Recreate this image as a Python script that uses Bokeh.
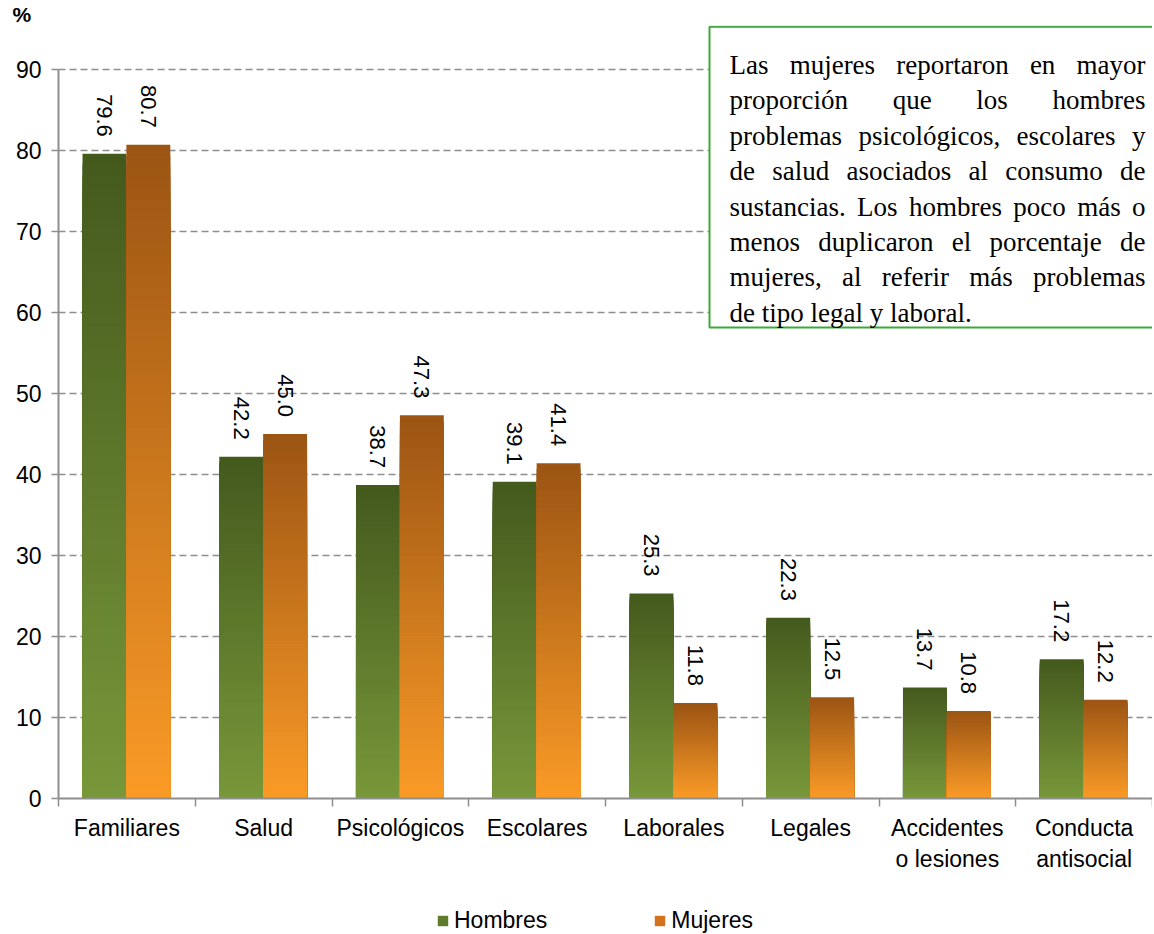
import math
from bokeh.plotting import figure
from bokeh.layouts import column
from bokeh.models import (Range1d, FixedTicker, Legend, LegendItem,
                          ColumnDataSource)
from bokeh.embed import file_html
from bokeh.resources import INLINE
from bokeh.core.properties import value

# ---------------- data ----------------
categories = ["Familiares", "Salud", "Psicológicos", "Escolares", "Laborales",
              "Legales", "Accidentes\no lesiones", "Conducta\nantisocial"]
hombres = [79.6, 42.2, 38.7, 39.1, 25.3, 22.3, 13.7, 17.2]
mujeres = [80.7, 45.0, 47.3, 41.4, 11.8, 12.5, 10.8, 12.2]
series_names = ["Hombres", "Mujeres"]
y_ticks = [0, 10, 20, 30, 40, 50, 60, 70, 80, 90]
note_lines = [
    "Las mujeres reportaron en mayor",
    "proporción que los hombres",
    "problemas psicológicos, escolares y",
    "de salud asociados al consumo de",
    "sustancias. Los hombres poco más o",
    "menos duplicaron el porcentaje de",
    "mujeres, al referir más problemas",
    "de tipo legal y laboral.",
]

# ---------------- style ----------------
GREEN_TOP, GREEN_BOT = "#44591d", "#78983a"
ORANGE_TOP, ORANGE_BOT = "#9b5413", "#fa9b27"
GREY = "#8e8e8e"
SANS = "Liberation Sans"
SERIF = "Liberation Serif"

LEFT, TOP = 58, 24
ZERO_Y = 797                        # page y of value 0
FRAME_W, FRAME_H = 1094, ZERO_Y - TOP
PX_X = FRAME_W / len(categories)    # px per category
PX_Y = 8.1                          # px per unit
Y_END = FRAME_H / PX_Y


def h2r(h):
    h = h.lstrip("#")
    return [int(h[i:i + 2], 16) for i in (0, 2, 4)]


def mix(c_bot, c_top, f):
    a, b = h2r(c_bot), h2r(c_top)
    return "#%02x%02x%02x" % tuple(int(round(a[i] + (b[i] - a[i]) * f)) for i in range(3))


def gradient_source(vals, offset, c_top, c_bot, n=60):
    # overlapping stacks drawn tallest first: no seams between bands
    xs, ts, cs = [], [], []
    for i, v in enumerate(vals):
        for k in range(n - 1, -1, -1):
            xs.append(i + offset)
            ts.append(v * (k + 1) / n)
            cs.append(mix(c_bot, c_top, (k + 0.5) / n))
    return ColumnDataSource(dict(x=xs, t=ts, c=cs))


p = figure(frame_width=FRAME_W, frame_height=FRAME_H,
           x_range=Range1d(0, len(categories)), y_range=Range1d(0, Y_END),
           output_backend="svg", toolbar_location=None, title="%",
           min_border_left=LEFT, min_border_top=TOP, min_border_right=0,
           min_border_bottom=0)
p.outline_line_color = None
p.background_fill_color = "white"
p.title.text_font = SANS
p.title.text_font_size = "21px"
p.title.text_font_style = "bold"
p.title.text_color = "black"
p.title.align = "left"
p.title.vertical_align = "bottom"
p.title.offset = -46
p.title.standoff = 0

# grid
p.xgrid.visible = False
p.ygrid.ticker = FixedTicker(ticks=y_ticks[1:])
p.ygrid.grid_line_color = GREY
p.ygrid.grid_line_width = 1.5
p.ygrid.grid_line_dash = "7 4"

# y axis
p.yaxis.ticker = FixedTicker(ticks=y_ticks, minor_ticks=[])
p.yaxis.bounds = (0, 90)
p.yaxis.axis_line_color = GREY
p.yaxis.axis_line_width = 2
p.yaxis.major_tick_line_color = GREY
p.yaxis.major_tick_line_width = 1.5
p.yaxis.major_tick_out = 7
p.yaxis.major_tick_in = 0
p.yaxis.major_label_standoff = 10
p.yaxis.major_label_text_font = SANS
p.yaxis.major_label_text_font_size = "23px"
p.yaxis.major_label_text_color = "black"

# x axis
centers = [i + 0.5 for i in range(len(categories))]
p.xaxis.ticker = FixedTicker(ticks=centers, minor_ticks=list(range(len(categories) + 1)))
p.xaxis.major_label_overrides = {c: lab for c, lab in zip(centers, categories)}
p.xaxis.axis_line_color = GREY
p.xaxis.axis_line_width = 2
p.xaxis.major_tick_line_color = None
p.xaxis.major_tick_out = 0
p.xaxis.major_tick_in = 0
p.xaxis.minor_tick_line_color = GREY
p.xaxis.minor_tick_line_width = 1.5
p.xaxis.minor_tick_out = 8
p.xaxis.minor_tick_in = 0
p.xaxis.major_label_standoff = 8
p.xaxis.major_label_text_font = SANS
p.xaxis.major_label_text_font_size = "23px"
p.xaxis.major_label_text_color = "black"

# bars with gradient
BW = 0.321
OFF_H, OFF_M = 0.336, 0.657
src_h = gradient_source(hombres, OFF_H, GREEN_TOP, GREEN_BOT)
src_m = gradient_source(mujeres, OFF_M, ORANGE_TOP, ORANGE_BOT)
for src in (src_h, src_m):
    p.vbar(x="x", width=BW, bottom=0, top="t", fill_color="c",
           line_color=None, source=src)

# value labels
for vals, off in ((hombres, OFF_H), (mujeres, OFF_M)):
    lsrc = ColumnDataSource(dict(x=[i + off for i in range(len(vals))], y=vals,
                                 t=["%.1f" % v for v in vals]))
    p.text(x="x", y="y", text="t", source=lsrc, angle=-math.pi / 2,
           text_align="right", text_baseline="middle", y_offset=-17,
           text_font=value(SANS), text_font_size="22px", text_color="black")

# note box
box_left = (709 - LEFT) / PX_X
p.quad(left=[box_left], right=[len(categories) + 1], bottom=[(ZERO_Y - 326) / PX_Y],
       top=[Y_END - 0.15], fill_color="white", line_color="#3fa83a", line_width=2)

# justified note text (Times / Liberation Serif metrics)
W = {'a': 444, 'b': 500, 'c': 444, 'd': 500, 'e': 444, 'f': 333, 'g': 500, 'h': 500,
     'i': 278, 'j': 278, 'k': 500, 'l': 278, 'm': 778, 'n': 500, 'o': 500, 'p': 500,
     'q': 500, 'r': 333, 's': 389, 't': 278, 'u': 500, 'v': 500, 'w': 722, 'x': 500,
     'y': 500, 'z': 444, 'L': 611, 'ó': 500, 'á': 444, 'é': 444, 'í': 278,
     ',': 250, '.': 250}
FS = 27
TEXT_L, TEXT_R = 729, 1145


def wwidth(w):
    return sum(W.get(ch, 500) for ch in w) * FS / 1000.0


wx, wy, wt = [], [], []
for li, line in enumerate(note_lines):
    words = line.split(" ")
    widths = [wwidth(w) for w in words]
    if li < len(note_lines) - 1 and len(words) > 1:
        gap = (TEXT_R - TEXT_L - sum(widths)) / (len(words) - 1)
    else:
        gap = 250 * FS / 1000.0
    xpx = TEXT_L
    base_px = 63.5 + li * 35.4
    for w, ww in zip(words, widths):
        wx.append((xpx - LEFT) / PX_X)
        wy.append((ZERO_Y - base_px) / PX_Y)
        wt.append(w)
        xpx += ww + gap
p.text(x=wx, y=wy, text=wt, text_align="left", text_baseline="alphabetic",
       text_font=value(SERIF), text_font_size="%dpx" % FS, text_color="black")

# legend strip (separate small figure below the chart)
leg = figure(width=LEFT + FRAME_W, height=60, x_range=Range1d(0, 1), y_range=Range1d(0, 1),
             output_backend="svg", toolbar_location=None,
             min_border_left=0, min_border_right=0, min_border_top=0, min_border_bottom=0)
leg.axis.visible = False
leg.grid.visible = False
leg.outline_line_color = None
rh = leg.vbar(x=[0.5], width=0.1, bottom=[0], top=[0], fill_color="#5f7b2c", line_color=None)
rm = leg.vbar(x=[0.5], width=0.1, bottom=[0], top=[0], fill_color="#d3731e", line_color=None)
legend = Legend(items=[LegendItem(label=series_names[0], renderers=[rh]),
                       LegendItem(label=series_names[1], renderers=[rm])],
                orientation="horizontal", location=(378, 0), spacing=106,
                glyph_width=13, glyph_height=13, label_standoff=5,
                label_text_font=SANS, label_text_font_size="23px",
                label_text_color="black", border_line_color=None,
                background_fill_alpha=0, padding=0, margin=0)
leg.add_layout(legend)

layout = column(p, leg, spacing=0)
open("out.html", "w").write(file_html(layout, INLINE))
